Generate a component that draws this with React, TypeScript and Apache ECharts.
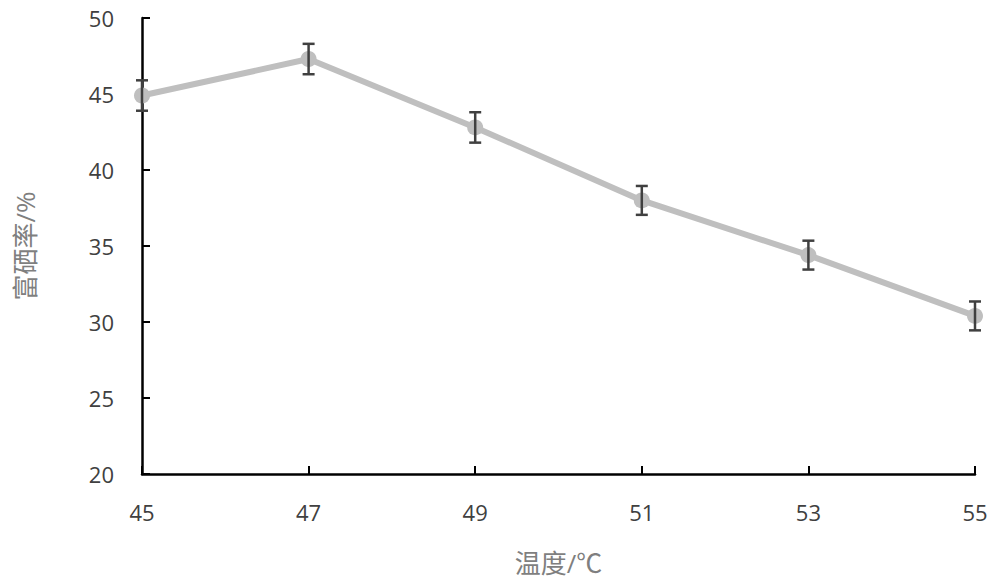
import React, { useEffect, useRef } from "react";
import * as echarts from "echarts";

const temps = [45, 47, 49, 51, 53, 55];
const rates = [44.9, 47.3, 42.8, 38.0, 34.4, 30.4];
const errors = [1.0, 1.0, 1.0, 0.95, 0.95, 0.95];
const xTicks = [45, 47, 49, 51, 53, 55];
const yTicks = [20, 25, 30, 35, 40, 45, 50];

export default function App() {
  const ref = useRef<HTMLDivElement>(null);
  useEffect(() => {
    if (!ref.current) return;
    const chart = echarts.init(ref.current, null, { renderer: "svg" });
    const font = "'Open Sans', 'Noto Sans CJK SC', sans-serif";
    chart.setOption({
      animation: false,
      backgroundColor: "#ffffff",
      grid: { left: 142, right: 25, top: 18, bottom: 114 },
      xAxis: {
        type: "value",
        min: xTicks[0],
        max: xTicks[xTicks.length - 1],
        interval: 2,
        name: "温度/℃",
        nameLocation: "middle",
        nameGap: 76,
        nameTextStyle: { fontSize: 26, color: "#7f7f7f", fontFamily: font },
        axisLine: { show: true, lineStyle: { color: "#000000", width: 2.5 } },
        axisTick: { show: true, inside: true, length: 8, lineStyle: { color: "#000000", width: 2 } },
        axisLabel: { fontSize: 22, color: "#404040", margin: 27, fontFamily: font },
        splitLine: { show: false },
      },
      yAxis: {
        type: "value",
        min: yTicks[0],
        max: yTicks[yTicks.length - 1],
        interval: 5,
        name: "富硒率/%",
        nameLocation: "middle",
        nameGap: 104,
        nameRotate: 90,
        nameTextStyle: { fontSize: 26, color: "#7f7f7f", fontFamily: font },
        axisLine: { show: true, lineStyle: { color: "#000000", width: 2.5 } },
        axisTick: { show: true, inside: true, length: 8, lineStyle: { color: "#000000", width: 2 } },
        axisLabel: { fontSize: 22, color: "#404040", margin: 28, fontFamily: font },
        splitLine: { show: false },
      },
      series: [
        {
          type: "line",
          data: temps.map((t, i) => [t, rates[i]]),
          symbol: "circle",
          symbolSize: 16,
          itemStyle: { color: "#bfbfbf" },
          lineStyle: { color: "#bfbfbf", width: 6 },
          z: 2,
        },
        {
          type: "custom",
          data: temps.map((t, i) => [t, rates[i] - errors[i], rates[i] + errors[i]]),
          z: 3,
          renderItem: (params: any, api: any) => {
            const x = api.value(0);
            const lo = api.coord([x, api.value(1)]);
            const hi = api.coord([x, api.value(2)]);
            const w = 6;
            const style = { stroke: "#404040", lineWidth: 2.5 };
            return {
              type: "group",
              children: [
                { type: "line", shape: { x1: lo[0], y1: lo[1], x2: hi[0], y2: hi[1] }, style },
                { type: "line", shape: { x1: lo[0] - w, y1: lo[1], x2: lo[0] + w, y2: lo[1] }, style },
                { type: "line", shape: { x1: hi[0] - w, y1: hi[1], x2: hi[0] + w, y2: hi[1] }, style },
              ],
            };
          },
        },
      ],
    });
    return () => chart.dispose();
  }, []);
  return <div ref={ref} style={{ position: "fixed", left: 0, top: 0, width: 1000, height: 588 }} />;
}
